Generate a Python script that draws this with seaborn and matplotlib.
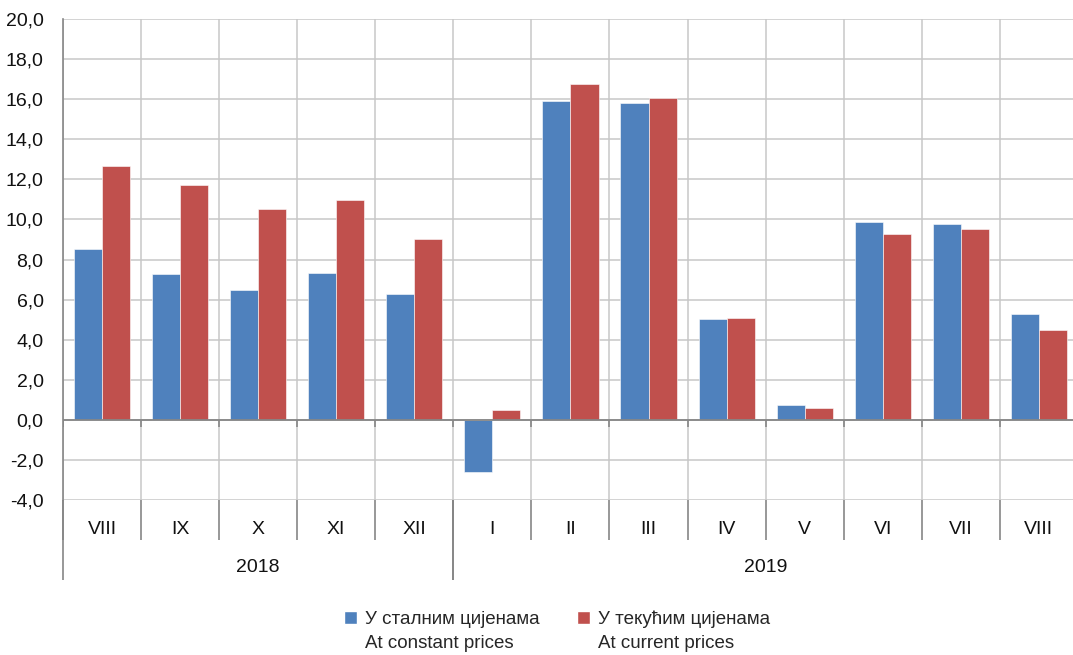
import seaborn as sns
import matplotlib.pyplot as plt
import pandas as pd
from matplotlib.patches import Patch
from matplotlib.ticker import FuncFormatter

# data
months = ['VIII', 'IX', 'X', 'XI', 'XII', 'I', 'II', 'III', 'IV', 'V', 'VI', 'VII', 'VIII']
years = ['2018'] * 5 + ['2019'] * 8
constant = [8.5, 7.3, 6.5, 7.35, 6.3, -2.6, 15.9, 15.8, 5.05, 0.75, 9.85, 9.75, 5.3]
current = [12.65, 11.7, 10.5, 10.95, 9.0, 0.5, 16.75, 16.05, 5.1, 0.6, 9.25, 9.5, 4.5]
series_names = ['У сталним цијенама', 'У текућим цијенама']
series_en = ['At constant prices', 'At current prices']

blue = '#4F81BD'
red = '#C0504D'
axis_grey = '#868686'
grid_grey = '#C8C8C8'

periods = [m + ' ' + y for m, y in zip(months, years)]
df = pd.DataFrame({
    'period': periods * 2,
    'series': [series_names[0]] * len(periods) + [series_names[1]] * len(periods),
    'value': constant + current,
})

sns.set_style('white')
plt.rcParams['font.family'] = ['Liberation Sans Narrow', 'Liberation Sans', 'DejaVu Sans']

fig = plt.figure(figsize=(10.73, 6.55), dpi=100)
ax = fig.add_axes([0.0587, 0.2366, 0.9459, 0.7344])

sns.barplot(data=df, x='period', y='value', hue='series', order=periods,
            hue_order=series_names, palette=[blue, red], saturation=1,
            width=0.72, edgecolor='white', linewidth=0.4, legend=False, ax=ax)

n = len(months)
bounds = [i - 0.5 for i in range(n + 1)]

ax.set_ylim(-4, 20)
ax.set_yticks(range(-4, 21, 2))
ax.yaxis.set_major_formatter(FuncFormatter(lambda v, p: f'{v:.1f}'.replace('.', ',')))
ax.set_xlim(-0.5, n - 0.5)
ax.set_xticks(range(n))
ax.set_xticklabels([])
ax.set_xticks(bounds, minor=True)
ax.tick_params(axis='both', which='both', length=0)
ax.tick_params(axis='y', labelsize=14, pad=14, labelcolor='#111111')

ax.grid(axis='y', color=grid_grey, lw=1.1)
ax.grid(axis='x', which='minor', color=grid_grey, lw=1.1)
ax.grid(axis='x', which='major', visible=False)
ax.set_axisbelow(True)
ax.set_xlabel('')
ax.set_ylabel('')

for s in ['top', 'right', 'bottom']:
    ax.spines[s].set_visible(False)
ax.spines['left'].set_color(axis_grey)
ax.spines['left'].set_linewidth(1.2)

# zero axis with small ticks
ax.axhline(0, color=axis_grey, lw=1.3, zorder=3)
ax.vlines(bounds, -0.35, 0, color=axis_grey, lw=1.2, zorder=3)

# multi-level category labels below the plot
trans = ax.get_xaxis_transform()
for i, m in enumerate(months):
    ax.text(i, -0.062, m, transform=trans, ha='center', va='center', fontsize=14, color='#111111')
ax.vlines(bounds, -0.083, 0, transform=trans, clip_on=False, color=axis_grey, lw=1.2)

groups = []
for i, y in enumerate(years):
    if not groups or groups[-1][0] != y:
        groups.append([y, i, i])
    else:
        groups[-1][2] = i
for y, start, end in groups:
    ax.text((start + end) / 2, -0.141, y, transform=trans, ha='center', va='center',
            fontsize=14, color='#111111')
    ax.vlines([start - 0.5, end + 0.5], -0.166, 0, transform=trans, clip_on=False,
              color=axis_grey, lw=1.2)

handles = [Patch(facecolor=blue), Patch(facecolor='none', edgecolor='none'),
           Patch(facecolor=red), Patch(facecolor='none', edgecolor='none')]
labels = [series_names[0], series_en[0], series_names[1], series_en[1]]
fig.legend(handles, labels, ncol=2, loc='center', bbox_to_anchor=(0.519, 0.036),
           frameon=False, fontsize=13.5, handlelength=0.7, handleheight=0.7,
           handletextpad=0.4, columnspacing=2.0, labelspacing=0.35)

fig.savefig('out.png', dpi=100)
